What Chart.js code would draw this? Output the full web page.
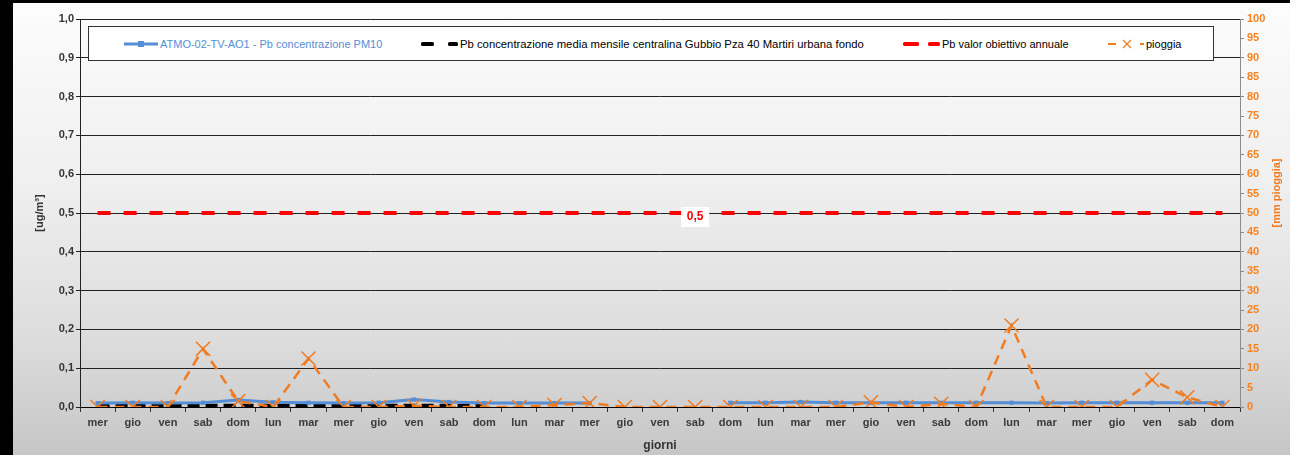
<!DOCTYPE html>
<html lang="it">
<head>
<meta charset="utf-8">
<title>Pb PM10 - giorni</title>
<script src="https://cdn.jsdelivr.net/npm/chart.js@4.4.1/dist/chart.umd.min.js"></script>
<style>
  html, body { margin: 0; padding: 0; background: #fff; }
  body { width: 1303px; height: 455px; position: relative; overflow: hidden; }
  #bordo-sx { position: absolute; left: 0; top: 0; width: 13px; height: 455px; background: #000; }
  #bordo-top { position: absolute; left: 0; top: 0; width: 1290px; height: 3px; background: #000; }
  #grafico {
    position: absolute; left: 13px; top: 3px; width: 1277px; height: 452px;
    background: linear-gradient(to bottom, #fcfcfc 0%, #efefef 40%, #dcdcdc 75%, #c6c6c6 100%);
  }
  #legenda {
    position: absolute; left: 75px; top: 23px; width: 1124px; height: 33px;
    background: #fff; border: 1px solid #333;
    font-family: "Liberation Sans Narrow", "Arial Narrow", "Liberation Sans", Arial, sans-serif;
    font-size: 11px; color: #000;
  }
  .voce { position: absolute; top: 0; height: 33px; display: flex; align-items: center; white-space: nowrap; }
  .voce svg { margin-right: 2px; }
</style>
</head>
<body>
<div id="bordo-sx"></div>
<div id="bordo-top"></div>
<div id="grafico">
  <canvas id="c" width="1277" height="452"></canvas>
  <div id="legenda"></div>
</div>
<script>
// dati
const giorni = ["mer", "gio", "ven", "sab", "dom", "lun", "mar", "mer", "gio", "ven", "sab", "dom", "lun", "mar",
  "mer", "gio", "ven", "sab", "dom", "lun", "mar", "mer", "gio", "ven", "sab", "dom", "lun", "mar",
  "mer", "gio", "ven", "sab", "dom"];

// ATMO-02-TV-AO1 [ug/m3]
const atmo = [0.010, 0.011, 0.010, 0.011, 0.018, 0.012, 0.011, 0.010, 0.011, 0.019, 0.013, 0.010, 0.010, 0.010,
  0.010, null, null, null, 0.011, 0.011, 0.013, 0.011, 0.011, 0.011, 0.011, 0.011, 0.011, 0.010,
  0.011, 0.011, 0.011, 0.011, 0.011];

// media mensile Gubbio [ug/m3]
const mediaMensile = [0.003, 0.003, 0.003, 0.003, 0.003, 0.003, 0.003, 0.003, 0.003, 0.003, 0.003, 0.003,
  null, null, null, null, null, null, null, null, null, null, null, null, null, null, null, null,
  null, null, null, null, null];

// valore obiettivo annuale [ug/m3]
const obiettivo = [0.5, 0.5, 0.5, 0.5, 0.5, 0.5, 0.5, 0.5, 0.5, 0.5, 0.5, 0.5, 0.5, 0.5, 0.5, 0.5, 0.5,
  0.5, 0.5, 0.5, 0.5, 0.5, 0.5, 0.5, 0.5, 0.5, 0.5, 0.5, 0.5, 0.5, 0.5, 0.5, 0.5];

// pioggia [mm]
const pioggia = [0, 0, 0, 15, 1.5, 0, 12.5, 0, 0, 0.3, 0, 0, 0, 0.5, 1, 0, 0, 0, 0, 0, 0, 0, 1.2, 0,
  0.8, 0, 21, 0, 0, 0, 7, 2.5, 0];

const indiceEtichetta = 17; // dove compare "0,5"

const BLU = "#558ed5";
const ARANCIO = "#f07b20";
const ROSSO = "#ff0000";
const FONT = '"Liberation Sans", Arial, sans-serif';

// etichetta "0,5" sulla linea rossa
const etichettaObiettivo = {
  id: "etichettaObiettivo",
  afterDatasetsDraw(chart) {
    const p = chart.getDatasetMeta(2).data[indiceEtichetta];
    const ctx = chart.ctx;
    ctx.save();
    ctx.fillStyle = "#fff";
    ctx.fillRect(p.x - 14, p.y - 6, 28, 20);
    ctx.font = "bold 12px " + FONT;
    ctx.fillStyle = ROSSO;
    ctx.textAlign = "center";
    ctx.textBaseline = "middle";
    ctx.fillText("0,5", p.x, p.y + 4);
    ctx.restore();
  },
};

// titolo asse destro
const titoloDestro = {
  id: "titoloDestro",
  afterDraw(chart) {
    const ctx = chart.ctx;
    ctx.save();
    ctx.translate(1264, 190);
    ctx.rotate(-Math.PI / 2);
    ctx.font = "bold 11px " + FONT;
    ctx.fillStyle = ARANCIO;
    ctx.textAlign = "center";
    ctx.textBaseline = "middle";
    ctx.fillText("[mm pioggia]", 0, 0);
    ctx.restore();
  },
};

const ctx = document.getElementById("c").getContext("2d");
const chart = new Chart(ctx, {
  type: "line",
  data: {
    labels: giorni,
    datasets: [
      {
        label: "ATMO-02-TV-AO1 - Pb concentrazione PM10",
        data: atmo,
        borderColor: BLU,
        backgroundColor: BLU,
        borderWidth: 3,
        pointStyle: "rect",
        pointRadius: 3,
        pointBorderWidth: 0,
        spanGaps: false,
        yAxisID: "y",
        order: 1,
      },
      {
        label: "Pb concentrazione media mensile centralina Gubbio Pza 40 Martiri urbana fondo",
        data: mediaMensile,
        borderColor: "#000",
        borderWidth: 4,
        borderDash: [12, 6],
        pointRadius: 0,
        yAxisID: "y",
        order: 2,
      },
      {
        label: "Pb valor obiettivo annuale",
        data: obiettivo,
        borderColor: ROSSO,
        borderWidth: 4,
        borderDash: [13, 13],
        pointRadius: 0,
        yAxisID: "y",
        order: 3,
      },
      {
        label: "pioggia",
        data: pioggia,
        borderColor: ARANCIO,
        backgroundColor: ARANCIO,
        borderWidth: 2.5,
        borderDash: [10, 7],
        pointStyle: "crossRot",
        pointRadius: 10,
        pointBorderWidth: 1.5,
        yAxisID: "y1",
        order: 0,
      },
    ],
  },
  options: {
    responsive: false,
    animation: false,
    events: [],
    layout: { padding: { left: 14, right: 0, top: 16, bottom: 0 } },
    plugins: {
      legend: { display: false },
      tooltip: { enabled: false },
    },
    scales: {
      x: {
        offset: true,
        grid: { drawOnChartArea: false, offset: true, tickLength: 5, color: "#333" },
        border: { color: "#000", width: 1 },
        ticks: { color: "#3a3a3a", font: { family: FONT, size: 11, weight: "bold" }, padding: 4, maxRotation: 0, autoSkip: false },
        title: { display: true, text: "giorni", color: "#333", font: { family: FONT, size: 12, weight: "bold" }, padding: { top: 0, bottom: 2 } },
        afterFit(s) { s.height = 48; },
      },
      y: {
        position: "left",
        min: 0,
        max: 1,
        grid: { color: "#222", lineWidth: 1, tickLength: 4 },
        border: { color: "#222", width: 1 },
        ticks: {
          stepSize: 0.1,
          padding: 2,
          color: "#333",
          font: { family: FONT, size: 11, weight: "bold" },
          callback: (v) => v.toFixed(1).replace(".", ","),
        },
        title: { display: true, text: "[ug/m³]", color: "#333", font: { family: FONT, size: 11, weight: "bold" }, padding: { top: 6, bottom: 0 } },
        afterFit(s) { s.width = 53; },
      },
      y1: {
        position: "right",
        min: 0,
        max: 100,
        grid: { drawOnChartArea: false, tickLength: 4, color: "#888" },
        border: { color: "#8c8c8c", width: 1 },
        ticks: { stepSize: 5, padding: 3, color: "#f5821f", font: { family: FONT, size: 11, weight: "bold" } },
        afterFit(s) { s.width = 50; },
      },
    },
  },
  plugins: [etichettaObiettivo, titoloDestro],
});

// legenda con riquadro, costruita dai dataset
const campioni = [
  { left: 35, svg: `<svg width="34" height="8"><line x1="0" y1="4" x2="34" y2="4" stroke="${BLU}" stroke-width="3"/><rect x="14" y="1" width="6" height="6" fill="${BLU}"/></svg>`, colore: BLU },
  { left: 332, svg: `<svg width="37" height="8"><rect x="0" y="2" width="13" height="4" rx="1.5" fill="#000"/><rect x="27" y="2" width="10" height="4" rx="1.5" fill="#000"/></svg>`, colore: "#000" },
  { left: 814, svg: `<svg width="37" height="8"><rect x="0" y="2" width="16" height="4" rx="1.5" fill="${ROSSO}"/><rect x="25" y="2" width="12" height="4" rx="1.5" fill="${ROSSO}"/></svg>`, colore: "#000" },
  { left: 1019, svg: `<svg width="36" height="10"><line x1="0" y1="5" x2="8" y2="5" stroke="${ARANCIO}" stroke-width="2"/><line x1="15" y1="1" x2="23" y2="9" stroke="${ARANCIO}" stroke-width="1.3"/><line x1="15" y1="9" x2="23" y2="1" stroke="${ARANCIO}" stroke-width="1.3"/><line x1="32" y1="5" x2="36" y2="5" stroke="${ARANCIO}" stroke-width="2"/></svg>`, colore: "#000" },
];
const legenda = document.getElementById("legenda");
chart.data.datasets.forEach((ds, i) => {
  const v = document.createElement("div");
  v.className = "voce";
  v.style.left = campioni[i].left + "px";
  v.style.fontSize = i === 1 ? "11.3px" : "11px";
  v.innerHTML = campioni[i].svg + `<span style="color:${campioni[i].colore}">${ds.label}</span>`;
  legenda.appendChild(v);
});
</script>
</body>
</html>
